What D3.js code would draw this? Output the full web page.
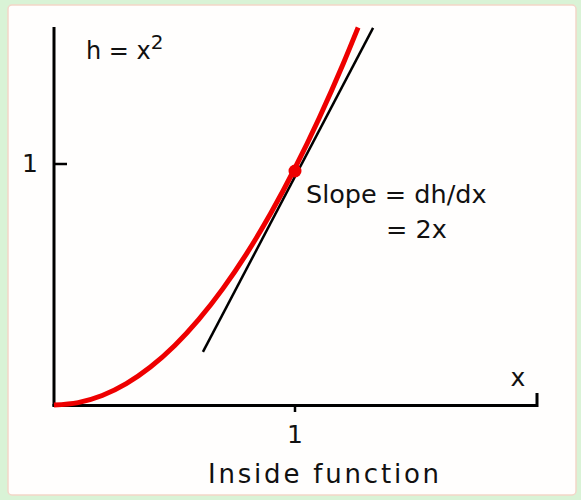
<!DOCTYPE html>
<html>
<head>
<meta charset="utf-8">
<script src="https://cdn.jsdelivr.net/npm/d3@7"></script>
<style>
  body { margin: 0; background: #d9f3d6; }
  text { font-family: "Comic Sans MS", "DejaVu Sans", sans-serif; fill: #111; }
</style>
</head>
<body>
<script>
// curve h = x^2 sampled points
const curveX = [0, 0.1, 0.2, 0.3, 0.4, 0.5, 0.6, 0.7, 0.8, 0.9, 1.0, 1.1, 1.2, 1.262];
const curveH = [0, 0.01, 0.04, 0.09, 0.16, 0.25, 0.36, 0.49, 0.64, 0.81, 1.0, 1.21, 1.44, 1.593];
// tangent segment, as drawn
const tangentX = [0.618, 1.324];
const tangentH = [0.224, 1.591];
const pointX = 1, pointH = 1;
const xTicks = [1], yTicks = [1];

const W = 581, H = 500;
const svg = d3.select("body").append("svg").attr("width", W).attr("height", H);

// panel
svg.append("rect").attr("x", 8).attr("y", 5).attr("width", 568).attr("height", 490)
  .attr("rx", 4).attr("fill", "#fffefd").attr("stroke", "#f3d6c8").attr("stroke-width", 1.5);

const x = d3.scaleLinear().domain([0, 1]).range([54, 295]);
const y = d3.scaleLinear().domain([0, 1]).range([405, 168]);

const g = svg.append("g");

// axes
g.append("line").attr("x1", 54).attr("x2", 54).attr("y1", 27).attr("y2", 406.5)
  .attr("stroke", "#000").attr("stroke-width", 3);
g.append("path").attr("d", "M52.5,405.5H537V393")
  .attr("fill", "none").attr("stroke", "#000").attr("stroke-width", 3);

xTicks.forEach(t => {
  g.append("line").attr("x1", x(t)).attr("x2", x(t)).attr("y1", 405).attr("y2", 412)
    .attr("stroke", "#000").attr("stroke-width", 2.5);
  g.append("text").attr("x", x(t)).attr("y", 443).attr("text-anchor", "middle")
    .attr("font-size", 25).text(t);
});
yTicks.forEach(t => {
  g.append("line").attr("x1", 54).attr("x2", 67).attr("y1", y(t) - 4).attr("y2", y(t) - 4)
    .attr("stroke", "#000").attr("stroke-width", 2.5);
  g.append("text").attr("x", 30).attr("y", y(t) + 4).attr("text-anchor", "middle")
    .attr("font-size", 25).text(t);
});

// tangent
g.append("line")
  .attr("x1", x(tangentX[0])).attr("y1", y(tangentH[0]))
  .attr("x2", x(tangentX[1])).attr("y2", y(tangentH[1]))
  .attr("stroke", "#000").attr("stroke-width", 2.5);

// curve
const line = d3.line().x(d => x(d[0])).y(d => y(d[1])).curve(d3.curveMonotoneX);
g.append("path").datum(d3.zip(curveX, curveH)).attr("d", line)
  .attr("fill", "none").attr("stroke", "#ee0000").attr("stroke-width", 5);

g.append("circle").attr("cx", x(pointX)).attr("cy", y(pointH) + 3).attr("r", 6.5).attr("fill", "#ee0000");

// labels
const eq = g.append("text").attr("x", 86).attr("y", 59).attr("font-size", 24);
eq.append("tspan").text("h = x");
eq.append("tspan").attr("dy", -10).attr("font-size", 20).text("2");

g.append("text").attr("x", 306).attr("y", 203).attr("font-size", 25.5).text("Slope = dh/dx");
g.append("text").attr("x", 386).attr("y", 238).attr("font-size", 25.5).text("= 2x");
g.append("text").attr("x", 518).attr("y", 386).attr("text-anchor", "middle").attr("font-size", 25).text("x");
g.append("text").attr("x", 208).attr("y", 483).attr("font-size", 26)
  .attr("letter-spacing", 2.8).text("Inside function");
</script>
</body>
</html>
